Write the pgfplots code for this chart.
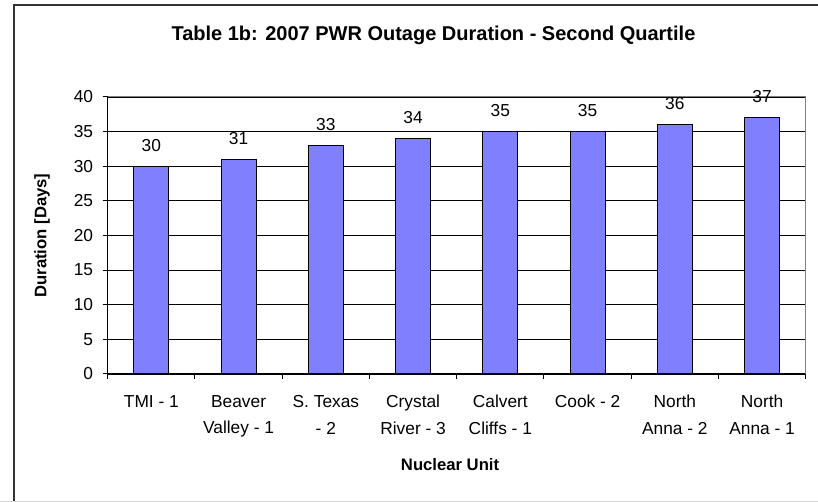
\documentclass[border=0pt]{standalone}
\usepackage{fontspec}
\setmainfont{Liberation Sans}
\usepackage{pgfplots}
\pgfplotsset{compat=1.18}
\definecolor{barblue}{RGB}{128,128,255}
\definecolor{plotgray}{RGB}{128,128,128}
\begin{document}
\begin{tikzpicture}
\useasboundingbox (0,0) rectangle (613.5pt,376.5pt);
% chart frame
\draw[line width=1.5pt, black!80] (10.5pt,0) -- (10.5pt,373.1pt) -- (613.5pt,373.1pt);
\draw[black!15, line width=1pt] (0,0.6pt) -- (613.5pt,0.6pt);
\node[font=\bfseries\fontsize{15}{18}\selectfont, anchor=base, inner sep=0pt]
  at (325.1pt,346pt) {Table 1b: 2007 PWR Outage Duration - Second Quartile};
\begin{axis}[
  at={(80.8pt,96pt)}, anchor=south west,
  scale only axis, width=523.5pt, height=207.75pt,
  xmin=-0.5, xmax=7.5, ymin=0, ymax=40,
  ytick={0,5,...,40},
  xtick={0,...,7},
  xticklabels={TMI - 1, Beaver\\Valley - 1, S. Texas\\- 2, Crystal\\River - 3,
    Calvert\\Cliffs - 1, Cook - 2, North\\Anna - 2, North\\Anna - 1},
  minor xtick={-0.5,0.5,...,7.5},
  every major x tick/.append style={draw=none},
  tick align=outside,
  major tick length=3.75pt, minor tick length=3.75pt,
  tick style={black, line width=0.75pt},
  axis x line*=bottom, axis y line*=left,
  axis line style={black, line width=0.75pt},
  ymajorgrids, major grid style={black, line width=0.6pt},
  /pgf/number format/assume math mode=true,
  ticklabel style={font=\fontsize{13}{20}\selectfont},
  x tick label style={align=center, anchor=north, inner sep=0pt, yshift=-12pt},
  y tick label style={anchor=east, inner sep=0pt, xshift=-7pt},
  ylabel={Duration [Days]}, xlabel={Nuclear Unit},
  every axis y label/.style={at={(axis description cs:0,0.5)}, xshift=-49.3pt,
    rotate=90, anchor=center, font=\bfseries\fontsize{12.5}{15}\selectfont},
  every axis x label/.style={at={(axis description cs:0.5,0)}, yshift=-68.25pt,
    xshift=-5pt, anchor=center, font=\bfseries\fontsize{12.5}{15}\selectfont},
  clip=false,
  ybar, bar width=0.4,
  nodes near coords,
  every node near coord/.append style={font=\fontsize{13}{16}\selectfont, anchor=center, yshift=15.75pt, black},
]
\addplot[fill=barblue, draw=black, line width=0.75pt] coordinates {
  (0,30) (1,31) (2,33) (3,34) (4,35) (5,35) (6,36) (7,37)};
\draw[plotgray, line width=0.75pt] (rel axis cs:0,1) -- (rel axis cs:1,1) -- (rel axis cs:1,0);
\end{axis}
\end{tikzpicture}
\end{document}
